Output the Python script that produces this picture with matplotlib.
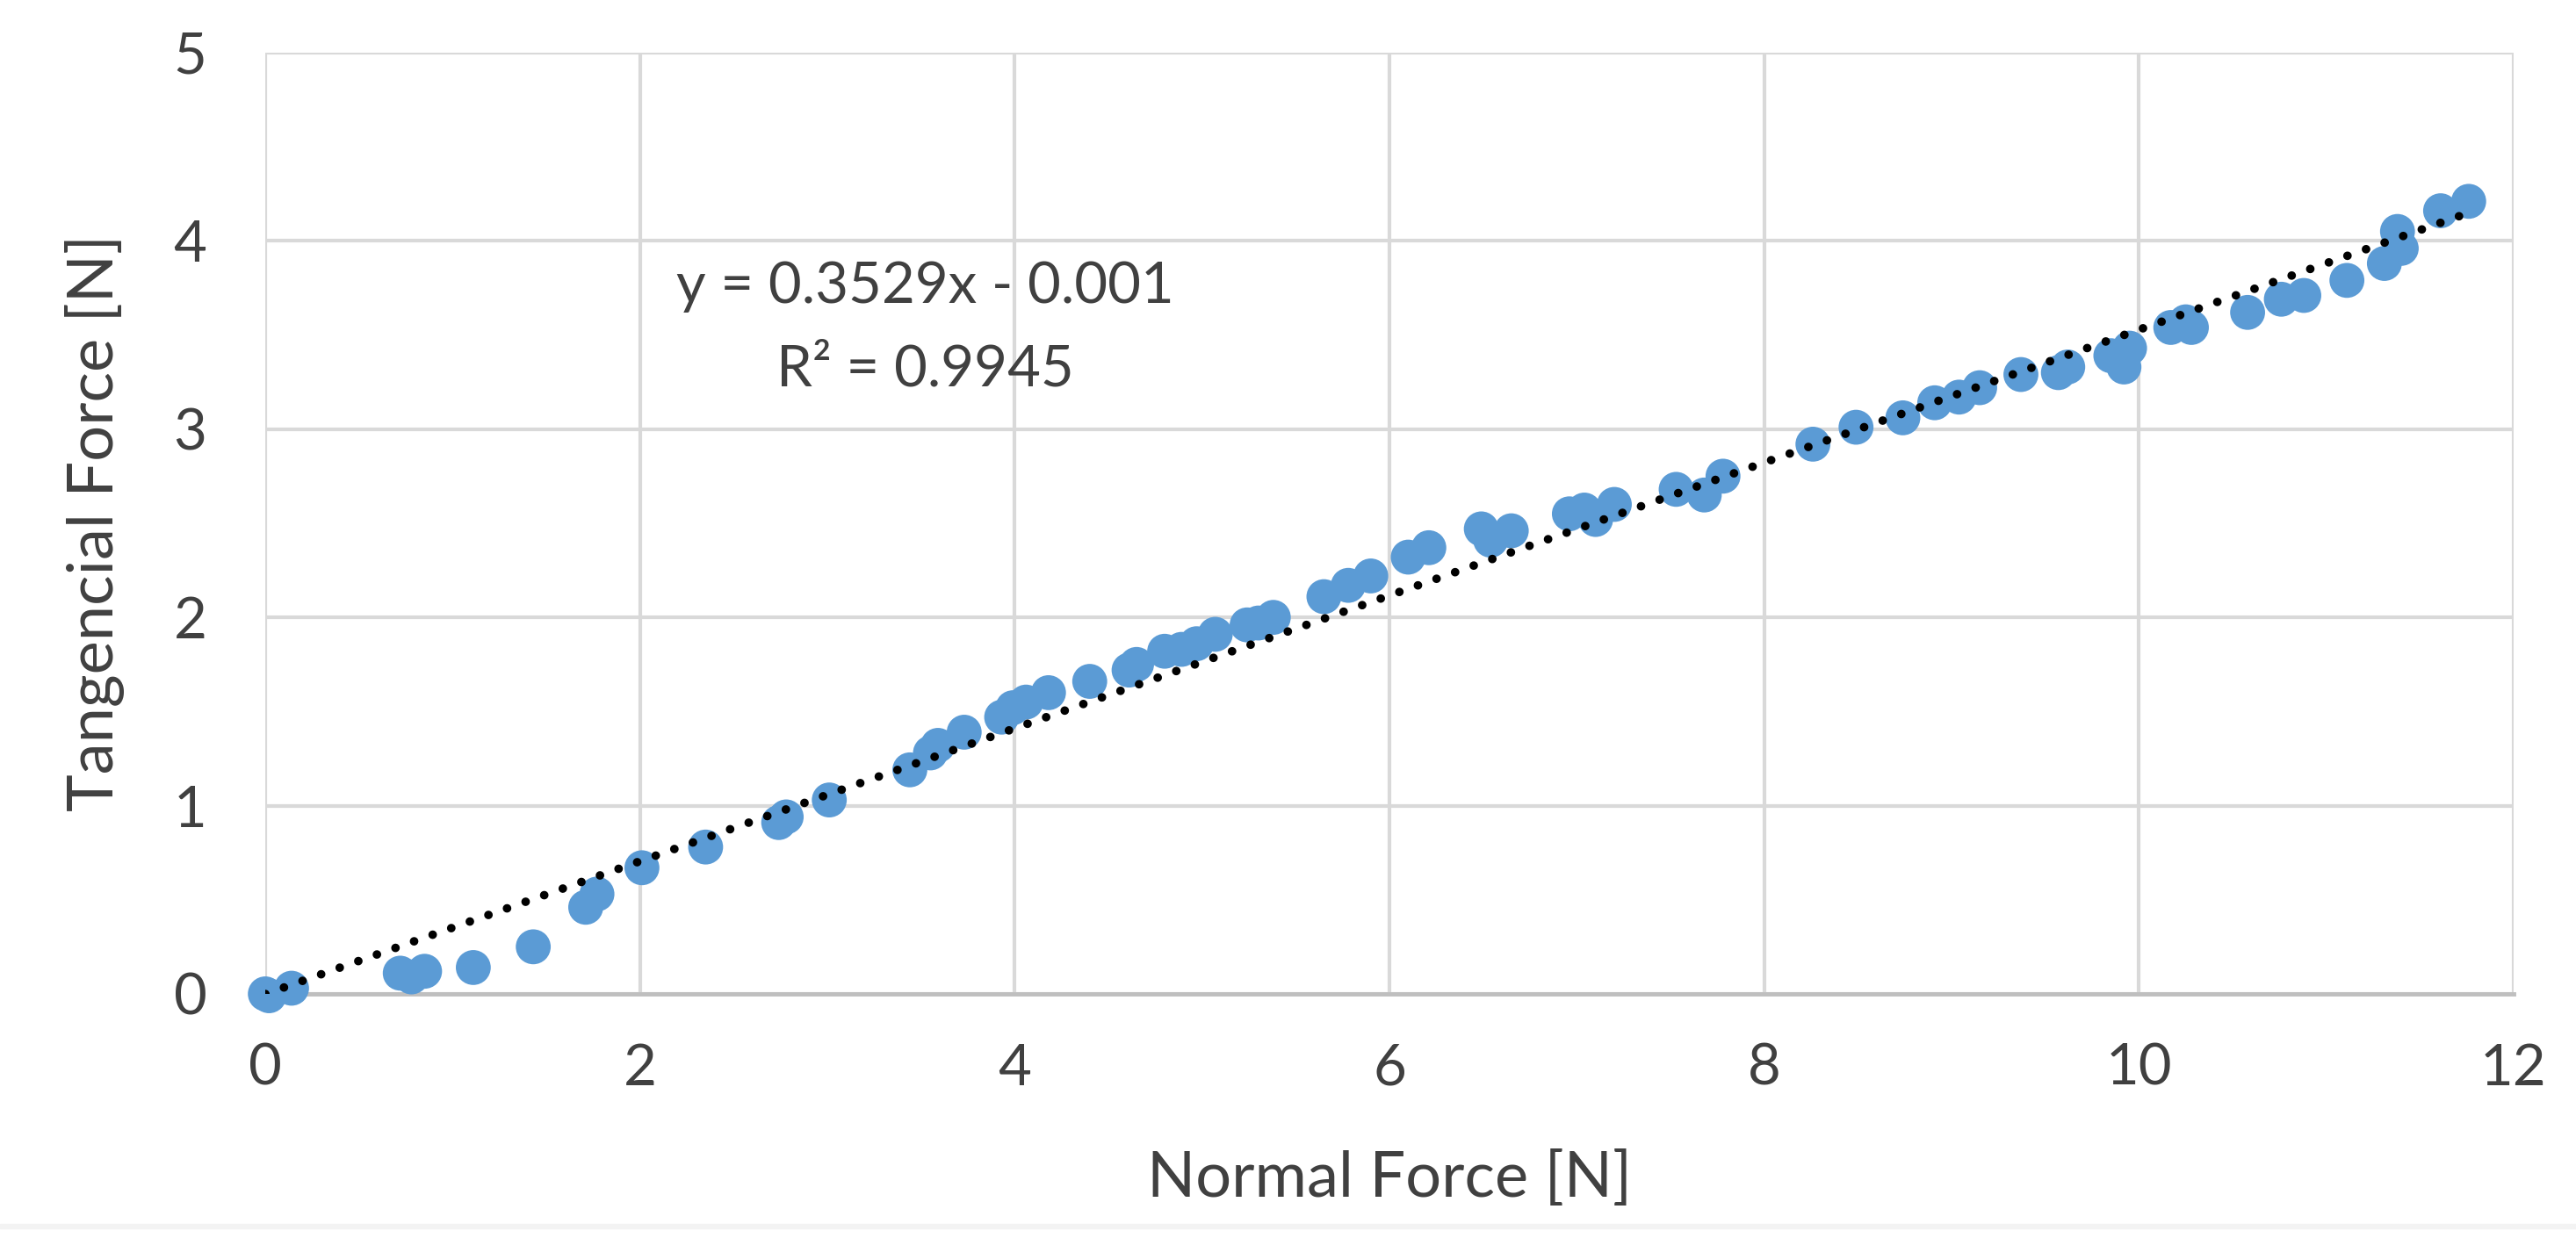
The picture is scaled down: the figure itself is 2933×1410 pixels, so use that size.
import numpy as np
import matplotlib
matplotlib.use("Agg")
import matplotlib.pyplot as plt
from matplotlib.patches import Rectangle

# normal force [N] / tangential force [N]
normal_force = [0.00, 0.02, 0.14, 0.72, 0.78, 0.85, 1.11, 1.43, 1.71, 1.77,
                2.01, 2.35, 2.74, 2.78, 3.01, 3.44, 3.55, 3.59, 3.73, 3.93,
                3.99, 4.06, 4.18, 4.40, 4.61, 4.65, 4.80, 4.89, 4.97, 5.07,
                5.24, 5.30, 5.38, 5.65, 5.78, 5.90, 6.10, 6.21, 6.49, 6.54,
                6.65, 6.96, 7.04, 7.10, 7.20, 7.53, 7.68, 7.78, 8.26, 8.49,
                8.74, 8.91, 9.04, 9.15, 9.37, 9.57, 9.62, 9.85, 9.92, 9.95,
                10.17, 10.25, 10.28, 10.58, 10.76, 10.88, 11.11, 11.31, 11.38, 11.40,
                11.61, 11.76]
tang_force = [0.00, -0.01, 0.03, 0.11, 0.09, 0.12, 0.14, 0.25, 0.46, 0.53,
              0.67, 0.78, 0.91, 0.94, 1.03, 1.19, 1.28, 1.32, 1.39, 1.47,
              1.52, 1.55, 1.60, 1.66, 1.72, 1.75, 1.82, 1.83, 1.86, 1.91,
              1.96, 1.97, 2.00, 2.11, 2.17, 2.22, 2.32, 2.37, 2.47, 2.41,
              2.46, 2.55, 2.57, 2.52, 2.60, 2.68, 2.65, 2.75, 2.92, 3.01,
              3.06, 3.14, 3.17, 3.22, 3.29, 3.30, 3.33, 3.39, 3.33, 3.43,
              3.54, 3.57, 3.54, 3.62, 3.69, 3.71, 3.79, 3.88, 4.05, 3.96,
              4.16, 4.21]

slope = 0.3529
intercept = -0.001
r2 = 0.9945

x_ticks = [0, 2, 4, 6, 8, 10, 12]
y_ticks = [0, 1, 2, 3, 4, 5]

txt = "#404040"
plt.rcParams['font.family'] = ['Lato', 'DejaVu Sans']

fig = plt.figure(figsize=(29.33, 14.10), dpi=100)
ax = fig.add_axes([0.1030, 0.1972, 0.8728, 0.7603])

ax.set_xlim(0, 12)
ax.set_ylim(0, 5)
ax.set_xticks(x_ticks)
ax.set_yticks(y_ticks)
ax.grid(True, color="#D9D9D9", linewidth=3)
ax.set_axisbelow(True)
for s in ["top", "right", "left"]:
    ax.spines[s].set_visible(False)
ax.spines["bottom"].set_color("#BFBFBF")
ax.spines["bottom"].set_linewidth(3.5)
ax.tick_params(length=0, labelsize=47, labelcolor=txt)
ax.tick_params(axis="x", pad=40)
ax.tick_params(axis="y", pad=48)

ax.scatter(normal_force, tang_force, s=820, color="#5B9BD5", edgecolors="none",
           zorder=3, clip_on=False)

xs = np.array([0, max(normal_force)])
ax.plot(xs, slope * xs + intercept, color="black", linewidth=7,
        linestyle=(0, (0.01, 2.3)), dash_capstyle="round", zorder=4)

ax.text(3.52, 3.67, "y = %.4fx - %.3f" % (slope, -intercept), ha="center",
        va="baseline", fontsize=47, color=txt)
ax.text(3.52, 3.23, "R² = %.4f" % r2, ha="center", va="baseline",
        fontsize=47, color=txt)

ax.set_xlabel("Normal Force [N]", fontsize=52, color=txt, labelpad=46)
ax.set_ylabel("Tangencial Force [N]", fontsize=52, color=txt, labelpad=40)

# faint strip along the bottom edge of the original picture
fig.patches.append(Rectangle((0, 11 / 1410), 1, 5 / 1410, transform=fig.transFigure,
                             color="#F3F3F3", zorder=0))

fig.savefig("out.png", dpi=100, facecolor="white")
